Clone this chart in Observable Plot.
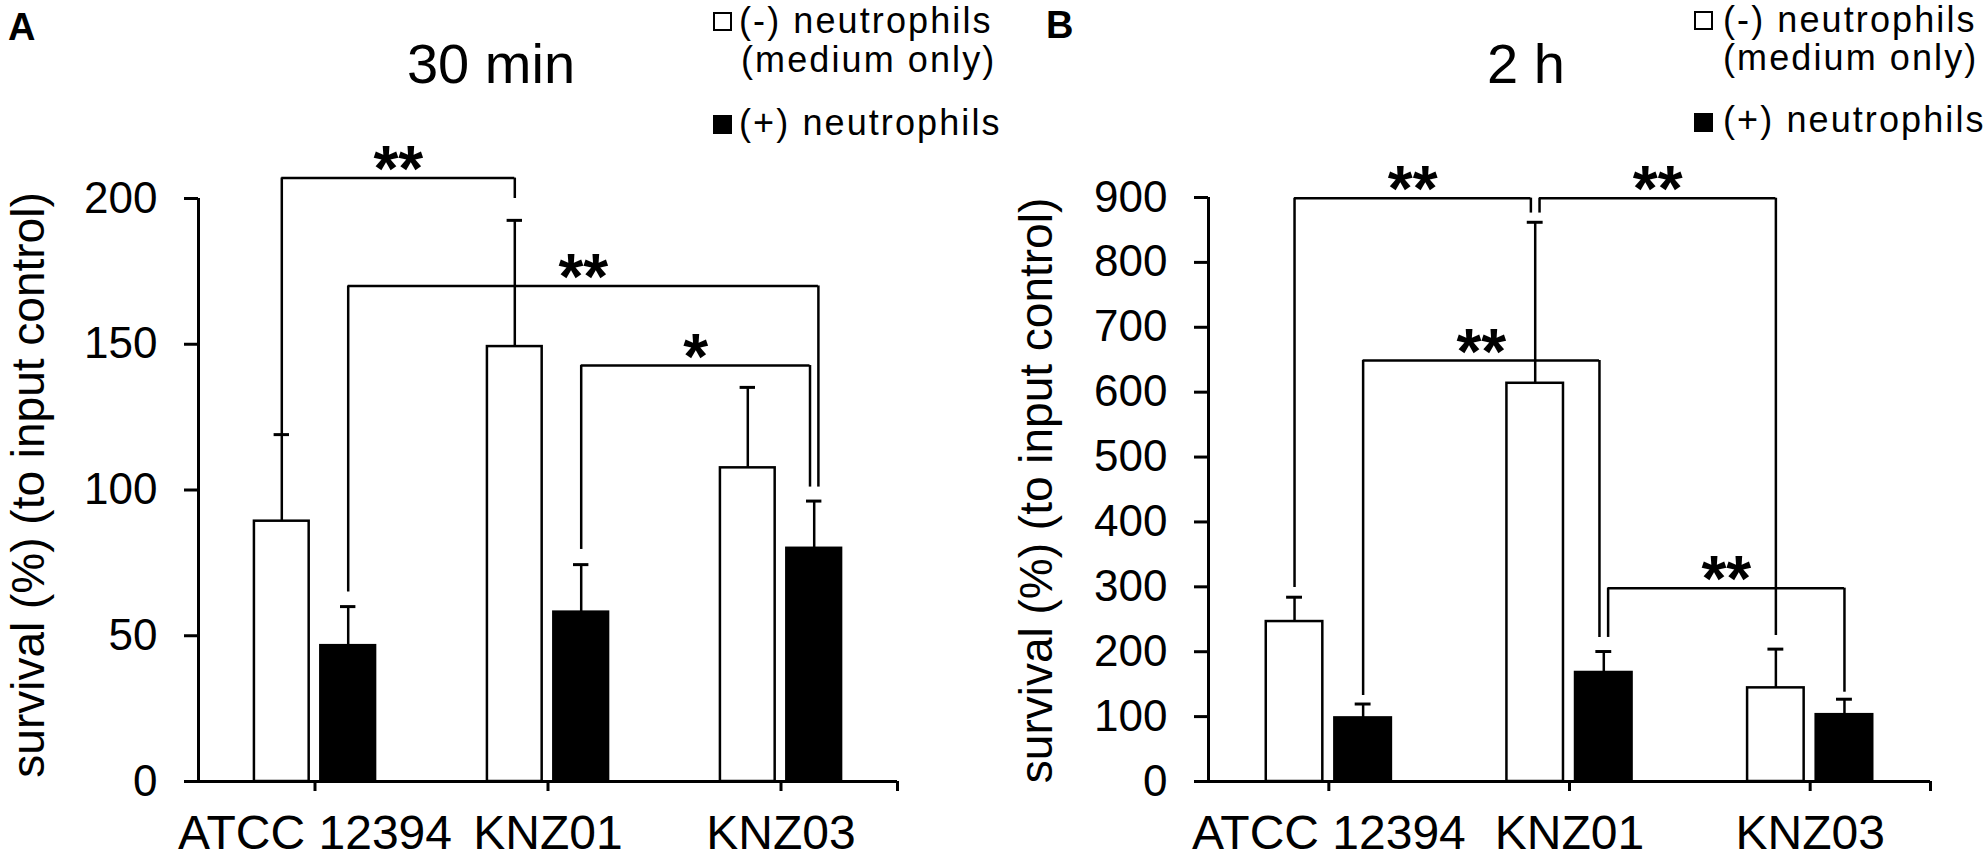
<!DOCTYPE html>
<html>
<head>
<meta charset="utf-8">
<script src="https://cdn.jsdelivr.net/npm/d3@7"></script>
<script src="https://cdn.jsdelivr.net/npm/@observablehq/plot@0.6"></script>
<style>
  html, body { margin: 0; padding: 0; background: #fff; }
  #wrap { position: relative; width: 1986px; height: 858px; overflow: hidden;
          font-family: "Liberation Sans", Arial, sans-serif; color: #000; background: #fff; }
  .panel { position: absolute; top: 0; }
  .t { position: absolute; white-space: nowrap; line-height: 1; }
  .letter { font-weight: bold; font-size: 38px; }
  .title { font-size: 56px; text-align: center; width: 300px; }
  .leg { font-size: 36px; letter-spacing: 2.1px; }
  .sw { position: absolute; width: 19px; height: 19px; box-sizing: border-box; border: 2px solid #000; }
</style>
</head>
<body>
<div id="wrap"></div>
<script>
// ---------- data ----------
const strains = ["ATCC 12394", "KNZ01", "KNZ03"];
const conditions = ["neg", "pos"];
const legendLabels = ["(-) neutrophils", "(medium only)", "(+) neutrophils"];
const yLabel = "survival (%) (to input control)";

// Panel A: 30 min
const titleA = "30 min";
const meanA_neg = [89.3, 149.2, 107.6];
const sdA_neg   = [29.7, 43.3, 27.6];
const meanA_pos = [46.6, 58.1, 80.0];
const sdA_pos   = [13.4, 16.3, 16.2];
const yTicksA = [0, 50, 100, 150, 200];

// Panel B: 2 h
const titleB = "2 h";
const meanB_neg = [246.5, 613.7, 144.3];
const sdB_neg   = [37.5, 248.1, 59.7];
const meanB_pos = [98.0, 168.0, 103.0];
const sdB_pos   = [21.4, 32.3, 23.8];
const yTicksB = [0, 100, 200, 300, 400, 500, 600, 700, 800, 900];

// significance brackets: bar a -> bar b, leg ends and bracket level (data units)
const bracketsA = [
  {a: ["ATCC 12394", "neg"], aEnd: 119.0, b: ["KNZ01", "neg"], bEnd: 200, level: 207, label: "**", na: 0, nb: 0},
  {a: ["ATCC 12394", "pos"], aEnd: 65, b: ["KNZ03", "pos"], bEnd: 101, level: 170, label: "**", na: 0, nb: 1},
  {a: ["KNZ01", "pos"], aEnd: 79.6, b: ["KNZ03", "pos"], bEnd: 101, level: 142.7, label: "*", na: 0, nb: -1}
];
const bracketsB = [
  {a: ["ATCC 12394", "neg"], aEnd: 299, b: ["KNZ01", "neg"], bEnd: 876, level: 899, label: "**", na: 0, nb: -1},
  {a: ["KNZ01", "neg"], aEnd: 876, b: ["KNZ03", "neg"], bEnd: 225, level: 899, label: "**", na: 1, nb: 0},
  {a: ["ATCC 12394", "pos"], aEnd: 132.5, b: ["KNZ01", "pos"], bEnd: 222, level: 648.7, label: "**", na: 0, nb: -1},
  {a: ["KNZ01", "pos"], aEnd: 222, b: ["KNZ03", "pos"], bEnd: 137.6, level: 298, label: "**", na: 1, nb: 0}
];

// ---------- layout ----------
const FONT = "'Liberation Sans', Arial, sans-serif";
const barSpan = {neg: [0.24, 0.475], pos: [0.525, 0.76]};
const NUDGE = 0.018, CAP = 0.033;
const xc = (strain, cond, n = 0) =>
  strains.indexOf(strain) + (barSpan[cond][0] + barSpan[cond][1]) / 2 + n * NUDGE;

function makePanel(o) {
  const bars = [];
  conditions.forEach(c => strains.forEach((s, i) => {
    bars.push({strain: s, cond: c, i, mean: o.means[c][i], top: o.means[c][i] + o.sds[c][i]});
  }));
  const legs = [];
  o.brackets.forEach(b => {
    legs.push({x: xc(b.a[0], b.a[1], b.na), y1: b.aEnd, y2: b.level});
    legs.push({x: xc(b.b[0], b.b[1], b.nb), y1: b.bEnd, y2: b.level});
  });
  const xTickVals = strains.map((s, i) => i + 0.5).concat([strains.length]);
  return Plot.plot({
    width: o.width, height: 858,
    marginLeft: o.ml, marginRight: o.mr, marginTop: o.mt, marginBottom: 77,
    x: {domain: [0, strains.length], axis: null},
    y: {domain: [0, o.yMax], axis: null},
    style: {fontFamily: FONT, color: "#000", background: "transparent", overflow: "visible", fontSize: "44px"},
    marks: [
      Plot.rect(bars.filter(d => d.cond === "neg"), {
        x1: d => d.i + barSpan.neg[0], x2: d => d.i + barSpan.neg[1], y1: 0, y2: "mean",
        fill: "white", stroke: "black", strokeWidth: 2.5}),
      Plot.rect(bars.filter(d => d.cond === "pos"), {
        x1: d => d.i + barSpan.pos[0], x2: d => d.i + barSpan.pos[1], y1: 0, y2: "mean",
        fill: "black", stroke: "black", strokeWidth: 2.5}),
      Plot.ruleX(bars, {x: d => xc(d.strain, d.cond), y1: "mean", y2: "top", strokeWidth: 2.5}),
      Plot.ruleY(bars, {y: "top", x1: d => xc(d.strain, d.cond) - CAP, x2: d => xc(d.strain, d.cond) + CAP, strokeWidth: 3}),
      Plot.ruleX(legs, {x: "x", y1: "y1", y2: "y2", strokeWidth: 2.5}),
      Plot.ruleY(o.brackets, {y: "level",
        x1: b => xc(b.a[0], b.a[1], b.na), x2: b => xc(b.b[0], b.b[1], b.nb), strokeWidth: 2.5}),
      Plot.text(o.brackets, {
        x: b => (xc(b.a[0], b.a[1], b.na) + xc(b.b[0], b.b[1], b.nb)) / 2, y: "level",
        text: "label", fontSize: 64, fontWeight: "bold", lineAnchor: "bottom", dy: 13}),
      Plot.ruleY([0], {x1: 0, x2: strains.length, strokeWidth: 3}),
      Plot.ruleX([0], {y1: 0, y2: o.yMax, strokeWidth: 3}),
      Plot.axisY({ticks: o.yTicks, tickSize: 14, tickPadding: 27, fontSize: 44, strokeWidth: 3,
        label: null, tickFormat: d => String(d)}),
      Plot.axisX({ticks: xTickVals, tickSize: 10, tickPadding: 23, fontSize: 48, strokeWidth: 3,
        label: null, tickFormat: d => (d < strains.length ? strains[Math.floor(d)] : "")}),
      Plot.text([yLabel], {frameAnchor: "left", text: d => d, rotate: -90, textAnchor: "middle",
        lineAnchor: "bottom", fontSize: 46, dx: o.labelDx, dy: o.labelDy})
    ]
  });
}

const wrap = document.getElementById("wrap");

const svgA = makePanel({
  width: 993, ml: 198, mr: 96, mt: 198, yMax: 200, yTicks: yTicksA,
  means: {neg: meanA_neg, pos: meanA_pos}, sds: {neg: sdA_neg, pos: sdA_pos},
  brackets: bracketsA, labelDx: -155, labelDy: -5
});
const svgB = makePanel({
  width: 993, ml: 215, mr: 56, mt: 197, yMax: 900, yTicks: yTicksB,
  means: {neg: meanB_neg, pos: meanB_pos}, sds: {neg: sdB_neg, pos: sdB_pos},
  brackets: bracketsB, labelDx: -157, labelDy: 1
});

function place(el, left) {
  const d = document.createElement("div");
  d.className = "panel";
  d.style.left = left + "px";
  d.appendChild(el);
  wrap.appendChild(d);
}
place(svgA, 0);
place(svgB, 993);

// ---------- header texts (panel letters, titles, legends) ----------
const ASC = 0.8465; // baseline offset for line-height 1 in Liberation Sans
function text(str, cls, left, baseline, size) {
  const d = document.createElement("div");
  d.className = "t " + cls;
  d.textContent = str;
  d.style.left = left + "px";
  d.style.top = (baseline - ASC * size) + "px";
  wrap.appendChild(d);
  return d;
}
function swatch(left, top, fill) {
  const d = document.createElement("div");
  d.className = "sw";
  d.style.left = left + "px";
  d.style.top = top + "px";
  d.style.background = fill;
  wrap.appendChild(d);
}

text("A", "letter", 8, 40, 38);
text("B", "letter", 1046, 38, 38);
text(titleA, "title", 491 - 150, 83, 56);
text(titleB, "title", 1526 - 150, 83, 56);

// legend A
swatch(713, 12, "white");
swatch(713, 115, "black");
text(legendLabels[0], "leg", 739, 33, 36);
text(legendLabels[1], "leg", 741, 72, 36);
text(legendLabels[2], "leg", 739, 135, 36);
// legend B
swatch(1694, 11, "white");
swatch(1694, 113, "black");
text(legendLabels[0], "leg", 1723, 32, 36);
text(legendLabels[1], "leg", 1723, 70, 36);
text(legendLabels[2], "leg", 1723, 132, 36);
</script>
</body>
</html>
